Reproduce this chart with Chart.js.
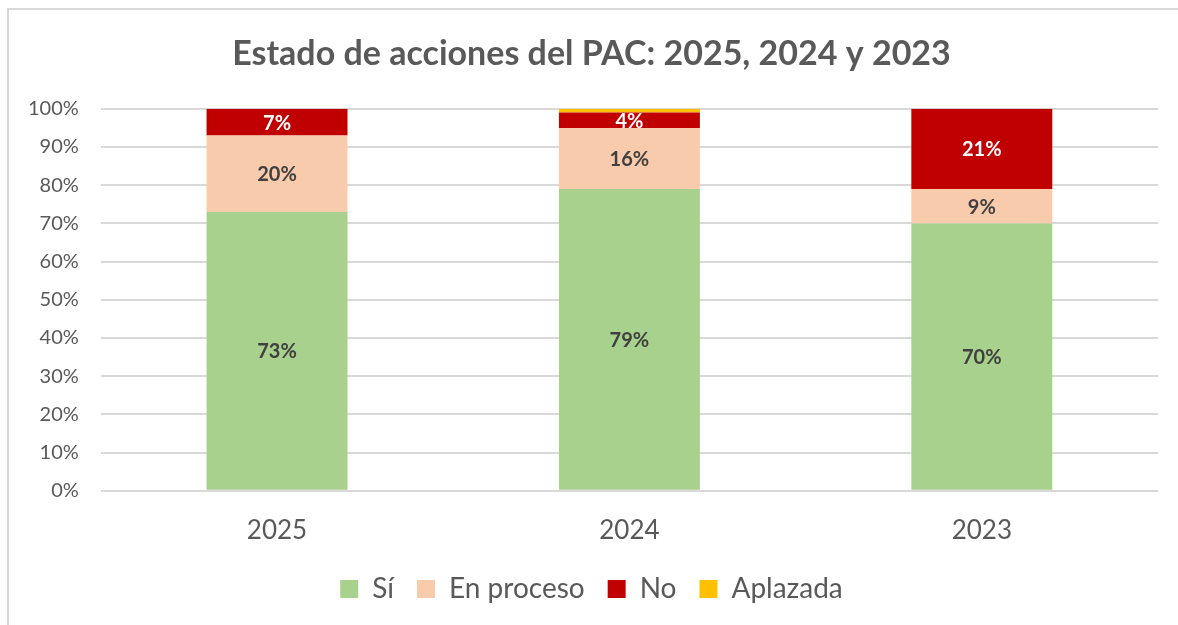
<!DOCTYPE html>
<html>
<head>
<meta charset="utf-8">
<script src="https://cdn.jsdelivr.net/npm/chart.js@4"></script>
<style>
  html, body { margin: 0; padding: 0; background: #fff; }
  #wrap { position: relative; width: 1178px; height: 625px; }
  #frame { position: absolute; left: 7px; top: 8px; right: 0; bottom: 0;
           border-top: 2px solid #d9d9d9; border-left: 2px solid #d9d9d9; }
  canvas { position: absolute; left: 0; top: 0; }
</style>
</head>
<body>
<div id="wrap">
  <div id="frame"></div>
  <canvas id="pac-chart" width="1178" height="625"></canvas>
</div>
<script>
// years shown, newest first
var years = [ '2025', '2024', '2023' ];

// share of actions per status (percent)
var si_vals         = [ 73, 79, 70 ];
var en_proceso_vals = [ 20, 16, 9 ];
var no_vals         = [ 7, 4, 21 ];
var aplazada_vals   = [ 0, 1, 0 ];

var y_ticks = [ 0, 10, 20, 30, 40, 50, 60, 70, 80, 90, 100 ];

var txt_grey = '#595959';

// writes the % value in the middle of each segment
var segment_labels = {
	id: 'segment_labels',
	afterDatasetsDraw: function(chart) {
		var ctx = chart.ctx;
		ctx.save();
		ctx.font = 'bold 20px Lato';
		ctx.textAlign = 'center';
		ctx.textBaseline = 'middle';
		chart.data.datasets.forEach(function(ds, i) {
			var meta = chart.getDatasetMeta(i);
			if (ds.hideLabels) return;
			meta.data.forEach(function(bar, j) {
				var v = ds.data[j];
				if (!v) return;
				ctx.fillStyle = ds.labelColor;
				ctx.fillText(v + '%', bar.x, (bar.y + bar.base) / 2 + 1);
			});
		});
		ctx.restore();
	}
};

function make_dataset(label, color, values, labelColor, hideLabels) {
	return { label: label,
	         backgroundColor: color,
	         borderWidth: 0,
	         data: values,
	         labelColor: labelColor,
	         hideLabels: hideLabels,
	         barPercentage: 0.4,
	         categoryPercentage: 1.0
	};
}

var aDatasets = [
	make_dataset('Sí',         '#a9d18e', si_vals,         '#404040', false),
	make_dataset('En proceso', '#f8cbad', en_proceso_vals, '#404040', false),
	make_dataset('No',         '#c00000', no_vals,         '#ffffff', false),
	make_dataset('Aplazada',   '#ffc000', aplazada_vals,   '#404040', true)
];

var ctx = document.getElementById('pac-chart');
var cfg = {
	type: 'bar',
	data: { labels: years, datasets: aDatasets },
	options: {
		responsive: false,
		animation: false,
		layout: { padding: { left: 25, right: 20, top: 34, bottom: 12 } },
		plugins: {
			title: { display: true,
			         text: 'Estado de acciones del PAC: 2025, 2024 y 2023',
			         color: txt_grey,
			         font: { family: 'Lato', size: 34, weight: 'bold' },
			         padding: { top: 0, bottom: 34 }
			},
			legend: { position: 'bottom',
			          labels: { color: txt_grey, boxWidth: 18, boxHeight: 18,
			                    padding: 23,
			                    font: { family: 'Lato', size: 28 } }
			},
			tooltip: { enabled: false }
		},
		scales: {
			x: { stacked: true,
			     grid: { display: false },
			     border: { display: false },
			     ticks: { color: txt_grey, font: { family: 'Lato', size: 26 }, padding: 16 },
			     afterFit: function(axis) { axis.height -= 10; }
			},
			y: { stacked: true, min: 0, max: 100,
			     afterBuildTicks: function(axis) {
			         axis.ticks = y_ticks.map(function(v) { return { value: v }; });
			     },
			     afterFit: function(axis) { axis.width -= 19; },
			     grid: { color: '#d9d9d9', lineWidth: 2, drawTicks: false },
			     border: { display: false },
			     ticks: { color: txt_grey, padding: 22,
			              font: { family: 'Lato', size: 20 },
			              callback: function(v) { return v + '%'; } }
			}
		}
	},
	plugins: [ segment_labels ]
};
new Chart(ctx, cfg);
</script>
</body>
</html>
